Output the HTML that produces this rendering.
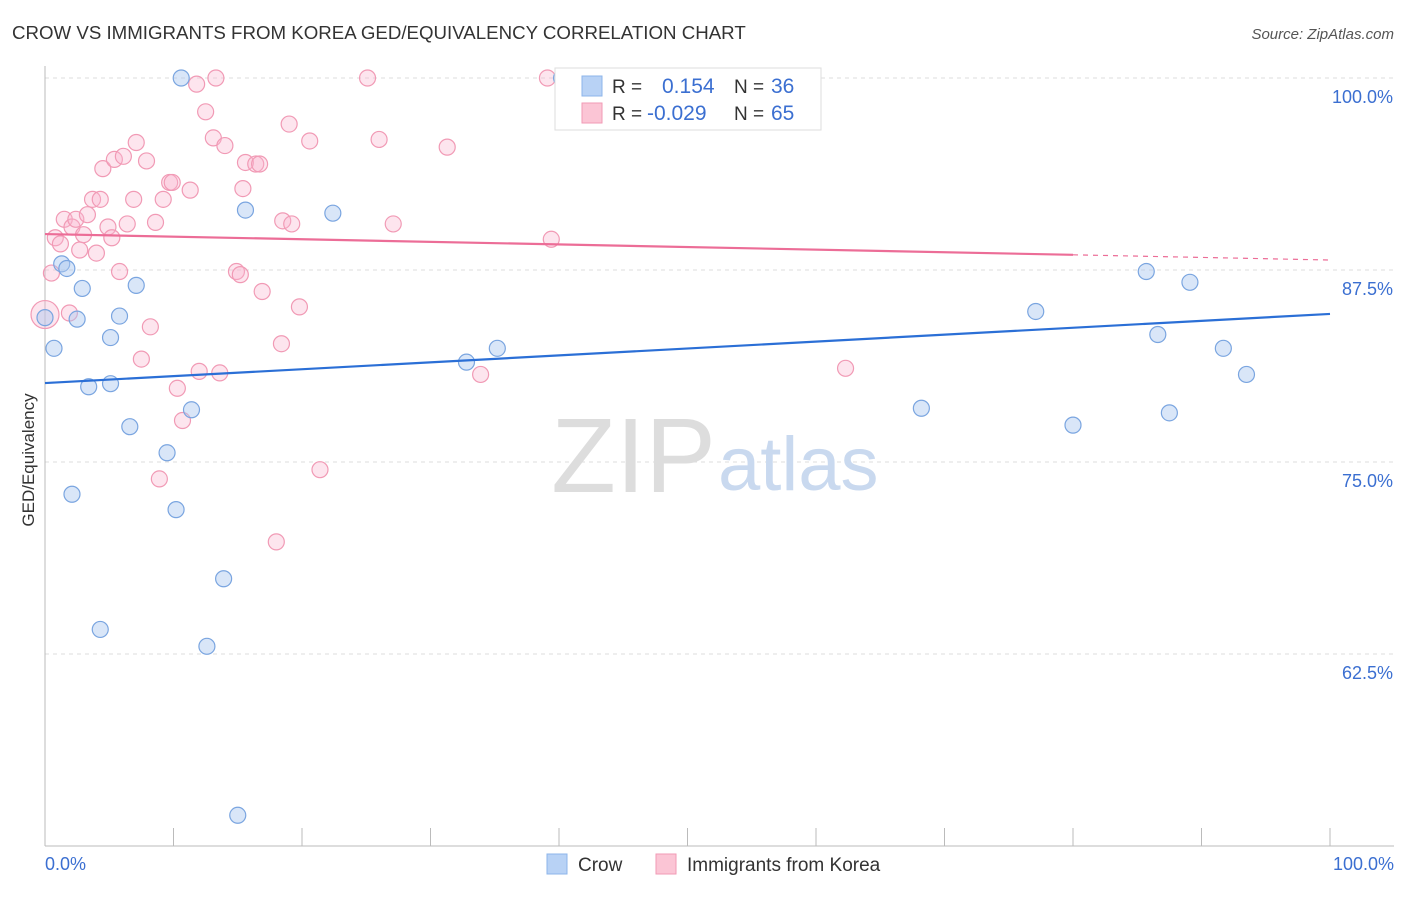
<!DOCTYPE html>
<html><head><meta charset="utf-8"><style>
body{margin:0;background:#fff;font-family:"Liberation Sans",sans-serif;}
svg text{font-family:"Liberation Sans",sans-serif;}
</style></head><body>
<svg id="chart" width="1406" height="892">
<text x="12" y="39" font-size="18.7" fill="#333">CROW VS IMMIGRANTS FROM KOREA GED/EQUIVALENCY CORRELATION CHART</text>
<text x="1394" y="39" font-size="15" fill="#555" text-anchor="end" font-style="italic">Source: ZipAtlas.com</text>
<text x="34" y="460" font-size="17" fill="#333" text-anchor="middle" transform="rotate(-90 34 460)">GED/Equivalency</text>
<g id="grid"></g>
<text x="716" y="492" font-size="106" fill="#ddd" text-anchor="end" font-family="Liberation Serif">ZIP</text>
<text x="718" y="490" font-size="76" fill="#c9d9ef">atlas</text>
<g id="marks"></g>
<g>
<rect x="555" y="68" width="266" height="62" fill="#fff" stroke="#ddd"/>
<rect x="582" y="76" width="20" height="20" fill="#b8d2f5" stroke="#8db4ea"/>
<rect x="582" y="103" width="20" height="20" fill="#fbc5d5" stroke="#f19ab5"/>
<text x="612" y="93" font-size="19" fill="#333">R =</text>
<text x="662" y="93" font-size="21" fill="#3b6fd1">0.154</text>
<text x="734" y="93" font-size="19" fill="#333">N =</text>
<text x="771" y="93" font-size="21" fill="#3b6fd1">36</text>
<text x="612" y="120" font-size="19" fill="#333">R =</text>
<text x="647" y="120" font-size="21" fill="#3b6fd1">-0.029</text>
<text x="734" y="120" font-size="19" fill="#333">N =</text>
<text x="771" y="120" font-size="21" fill="#3b6fd1">65</text>
</g>
<g>
<rect x="547" y="854" width="20" height="20" fill="#b8d2f5" stroke="#8db4ea"/>
<text x="578" y="871" font-size="19" fill="#333">Crow</text>
<rect x="656" y="854" width="20" height="20" fill="#fbc5d5" stroke="#f19ab5"/>
<text x="687" y="871" font-size="19" fill="#333">Immigrants from Korea</text>
</g>
</svg>
<script>
const yTicks=[100,87.5,75,62.5];
const yTickLabels=["100.0%","87.5%","75.0%","62.5%"];
const crowX=[0,0.7,1.3,1.7,2.1,2.5,2.9,3.4,4.3,5.1,5.1,5.8,6.6,7.1,9.5,10.2,10.6,11.4,12.6,13.9,15.0,15.6,22.4,32.8,35.2,40.2,56.4,68.2,77.1,80.0,85.7,86.6,87.5,89.1,91.7,93.5];
const crowY=[84.4,82.4,87.9,87.6,72.9,84.3,86.3,79.9,64.1,80.1,83.1,84.5,77.3,86.5,75.6,71.9,100,78.4,63.0,67.4,52.0,91.4,91.2,81.5,82.4,100,100,78.5,84.8,77.4,87.4,83.3,78.2,86.7,82.4,80.7];
const korX=[0,0.5,0.8,1.2,1.5,1.9,2.1,2.4,2.7,3.0,3.3,3.7,4.0,4.3,4.5,4.9,5.2,5.4,5.8,6.1,6.4,6.9,7.1,7.5,7.9,8.2,8.6,8.9,9.2,9.7,9.9,10.3,10.7,11.3,12.0,12.5,13.1,13.3,13.6,14.0,11.8,14.9,15.2,15.4,15.6,16.4,16.7,16.9,18.0,18.4,18.5,19.0,19.2,19.8,20.6,21.4,25.1,26.0,27.1,31.3,33.9,39.1,39.4,62.3];
const korY=[84.6,87.3,89.6,89.2,90.8,84.7,90.3,90.8,88.8,89.8,91.1,92.1,88.6,92.1,94.1,90.3,89.6,94.7,87.4,94.9,90.5,92.1,95.8,81.7,94.6,83.8,90.6,73.9,92.1,93.2,93.2,79.8,77.7,92.7,80.9,97.8,96.1,100,80.8,95.6,99.6,87.4,87.2,92.8,94.5,94.4,94.4,86.1,69.8,82.7,90.7,97.0,90.5,85.1,95.9,74.5,100,96.0,90.5,95.5,80.7,100,89.5,81.1];
const crowTrend=[80.14,84.64];
const korTrend=[89.84,88.15];
const NS="http://www.w3.org/2000/svg";
const X=v=>45+v/100*1285;
const Y=v=>78+(100-v)/12.5*192;
function mk(t,a,p){const e=document.createElementNS(NS,t);for(const k in a)e.setAttribute(k,a[k]);p.appendChild(e);return e;}
const grid=document.getElementById('grid'),marks=document.getElementById('marks');
yTicks.forEach((t,i)=>{
 const l=mk('line',{x1:45,x2:1394,y1:Y(t),y2:Y(t),stroke:'#ddd','stroke-dasharray':'4,4'},grid);
 
 
 const tx=mk('text',{x:1393,y:Y(t)+25,'font-size':18,fill:'#3b6fd1','text-anchor':'end'},grid);
 tx.textContent=yTickLabels[i];
 
 
});
const ax=mk('line',{x1:45,x2:45,y1:66,y2:846,stroke:'#bbb'},grid);


const bx=mk('line',{x1:45,x2:1394,y1:846,y2:846,stroke:'#bbb'},grid);


for(let i=0;i<=10;i++){const t=mk('line',{x1:X(i*10),x2:X(i*10),y1:828,y2:846,stroke:'#bbb'},grid);
 
 }
const xl=[["0.0%",45,'start'],["100.0%",1394,'end']];
xl.forEach(a=>{const t=mk('text',{x:a[1],y:870,'font-size':18,fill:'#3b6fd1','text-anchor':a[2]},grid);t.textContent=a[0];
 
 });
korX.forEach((x,i)=>{const c=mk('circle',{cx:X(x),cy:Y(korY[i]),r:i==0?14:8,fill:'rgba(248,180,205,0.35)',stroke:'#f19ab5','stroke-width':1.2},marks);
 
 });
crowX.forEach((x,i)=>{const c=mk('circle',{cx:X(x),cy:Y(crowY[i]),r:8,fill:'rgba(170,200,240,0.45)',stroke:'#7aa5e0','stroke-width':1.2},marks);
 
 });
const cl=mk('line',{x1:X(0),y1:Y(crowTrend[0]),x2:X(100),y2:Y(crowTrend[1]),stroke:'#2b6fd6','stroke-width':2.2},marks);


const kyAt=x=>korTrend[0]+(korTrend[1]-korTrend[0])*x/100;
const kl=mk('line',{x1:X(0),y1:Y(korTrend[0]),x2:X(80),y2:Y(kyAt(80)),stroke:'#ec6d97','stroke-width':2.2},marks);


const kd=mk('line',{x1:X(80),y1:Y(kyAt(80)),x2:X(100),y2:Y(korTrend[1]),stroke:'#ec6d97','stroke-width':1.2,'stroke-dasharray':'5,5'},marks);


</script>
</body></html>
